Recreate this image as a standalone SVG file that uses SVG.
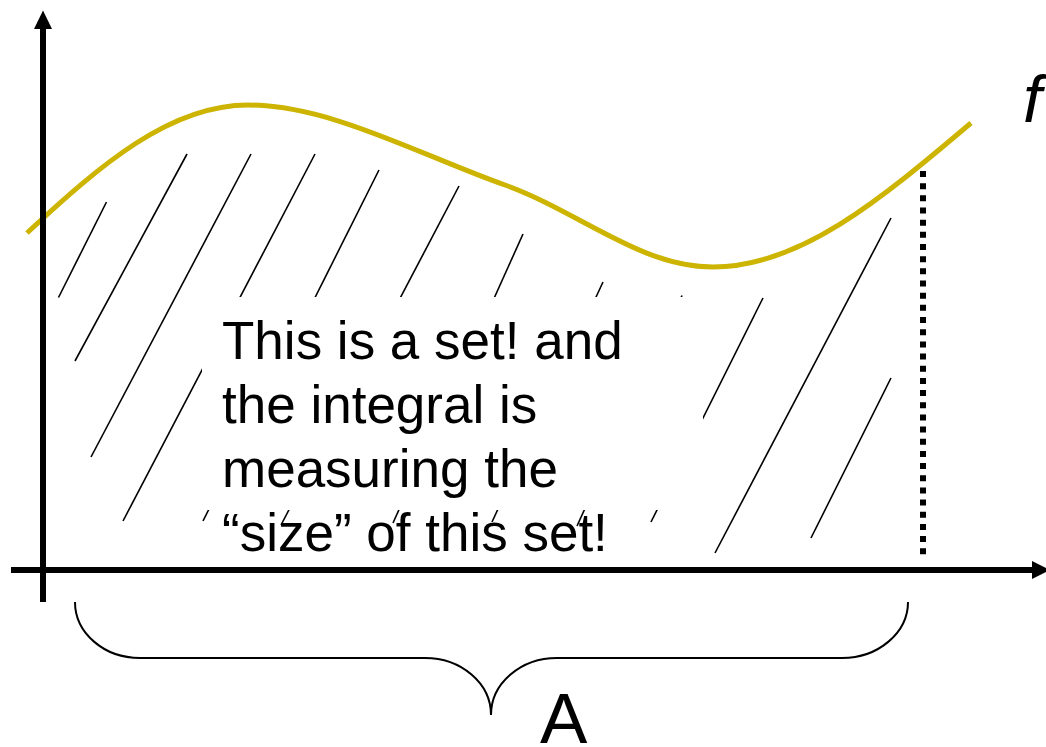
<svg xmlns="http://www.w3.org/2000/svg" width="1046" height="747" viewBox="0 0 1046 747">
<style>
.hatch{stroke:#000;stroke-width:1.6;fill:none;stroke-linecap:butt}
.axis{stroke:#000;stroke-width:6;fill:none}
.curve{stroke:#CCB400;stroke-width:5;fill:none}
.txt{font-family:"Liberation Sans",Arial,sans-serif;fill:#000}
</style>
<rect width="1046" height="747" fill="#fff"/>
<g id="hatching">
<line class="hatch" x1="106.5" y1="202" x2="58.5" y2="297.5"/>
<line class="hatch" x1="187" y1="154" x2="75" y2="361"/>
<line class="hatch" x1="251" y1="154" x2="91" y2="457"/>
<line class="hatch" x1="315" y1="154" x2="123" y2="521"/>
<line class="hatch" x1="379" y1="170" x2="203" y2="521"/>
<line class="hatch" x1="459" y1="186" x2="281" y2="525"/>
<line class="hatch" x1="523" y1="234" x2="393" y2="523"/>
<line class="hatch" x1="603" y1="282" x2="492" y2="522"/>
<line class="hatch" x1="682" y1="295.5" x2="577" y2="526"/>
<line class="hatch" x1="763" y1="298" x2="651" y2="522"/>
<line class="hatch" x1="891" y1="218" x2="715" y2="553"/>
<line class="hatch" x1="891" y1="378" x2="811" y2="538"/>
</g>
<g id="curve-f">
<path class="curve" d="M27,233 C100,165 170,105 248,105 C330,105 420,155 505,185 C580,212 640,267 713,267 C800,267 880,200 971,123"/>
</g>
<g id="text-box">
<rect x="202" y="297" width="501" height="213" fill="#fff"/>
<text class="txt" font-size="53" x="222" y="359">This is a set! and</text>
<text class="txt" font-size="53" x="222" y="423">the integral is</text>
<text class="txt" font-size="53" x="222" y="487">measuring the</text>
<text class="txt" font-size="53" x="222" y="551">“size” of this set!</text>
</g>
<g id="connectors">
<line class="axis" x1="43" y1="602" x2="43" y2="27"/>
<polygon points="43,10.5 34,29 52,29" fill="#000"/>
<line class="axis" x1="11" y1="570" x2="1034" y2="570"/>
<polygon points="1032,561 1050,570 1032,579" fill="#000"/>
<line x1="923" y1="171" x2="923" y2="555" stroke="#000" stroke-width="6" stroke-dasharray="6 6.17"/>
<path d="M75,602 C75,633 104,658 140,658 L425,658 C461,658 491,683 491,715 C491,683 521,658 557,658 L842,658 C878,658 908,633 908,602" fill="none" stroke="#000" stroke-width="2"/>
</g>
<g id="label-f">
<text class="txt" font-size="67" font-style="italic" x="1023" y="122">f</text>
</g>
<g id="label-A">
<text class="txt" font-size="71" x="540" y="743">A</text>
</g>
</svg>
